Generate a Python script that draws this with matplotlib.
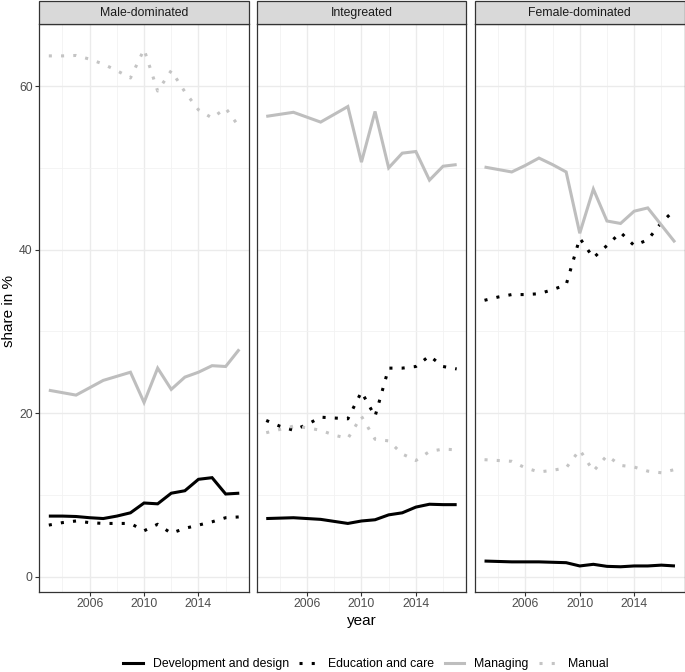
import matplotlib
matplotlib.use("Agg")
import matplotlib.pyplot as plt
from matplotlib.patches import Rectangle
from matplotlib.lines import Line2D
import numpy as np

plt.rcParams["font.family"] = ["Liberation Sans", "DejaVu Sans"]

years = list(range(2003, 2018))
panels = ["Male-dominated", "Integreated", "Female-dominated"]
series_names = ["Development and design", "Education and care", "Managing", "Manual"]

dev_male = [7.4, 7.4, 7.35, 7.2, 7.1, 7.4, 7.8, 9.0, 8.9, 10.2, 10.5, 11.9, 12.1, 10.1, 10.2]
edu_male = [6.3, 6.6, 6.8, 6.6, 6.5, 6.5, 6.5, 5.6, 6.4, 5.3, 5.9, 6.3, 6.7, 7.2, 7.3]
man_male = [22.8, 22.5, 22.2, 23.1, 24.0, 24.5, 25.0, 21.3, 25.5, 22.9, 24.4, 25.0, 25.8, 25.7, 27.8]
manual_male = [63.7, 63.7, 63.75, 63.3, 62.7, 61.9, 61.0, 64.5, 59.4, 61.9, 59.3, 57.1, 56.1, 57.3, 55.0]

dev_int = [7.1, 7.15, 7.2, 7.1, 7.0, 6.75, 6.5, 6.8, 6.95, 7.55, 7.8, 8.5, 8.85, 8.8, 8.8]
edu_int = [19.1, 18.4, 17.9, 18.6, 19.5, 19.4, 19.3, 22.6, 19.6, 25.5, 25.5, 25.7, 27.0, 25.7, 25.4]
man_int = [56.3, 56.55, 56.8, 56.2, 55.6, 56.55, 57.5, 50.7, 56.9, 50.0, 51.8, 52.0, 48.5, 50.2, 50.4]
manual_int = [17.6, 18.0, 18.4, 18.2, 17.9, 17.3, 16.9, 19.6, 16.8, 16.6, 15.0, 14.2, 15.3, 15.6, 15.5]

dev_fem = [1.9, 1.85, 1.8, 1.8, 1.8, 1.75, 1.7, 1.3, 1.5, 1.25, 1.2, 1.3, 1.3, 1.4, 1.3]
edu_fem = [33.8, 34.2, 34.5, 34.5, 34.6, 35.1, 35.7, 41.4, 39.0, 40.5, 42.1, 40.5, 41.2, 43.3, 44.9]
man_fem = [50.1, 49.8, 49.5, 50.3, 51.2, 50.4, 49.5, 42.0, 47.4, 43.5, 43.2, 44.7, 45.1, 43.0, 40.9]
manual_fem = [14.3, 14.2, 14.1, 13.3, 12.8, 13.0, 13.3, 15.5, 12.9, 14.8, 13.6, 13.4, 12.9, 12.7, 13.1]

data = {
    "Male-dominated": [dev_male, edu_male, man_male, manual_male],
    "Integreated": [dev_int, edu_int, man_int, manual_int],
    "Female-dominated": [dev_fem, edu_fem, man_fem, manual_fem],
}

colors = ["#000000", "#000000", "#BEBEBE", "#C4C4C4"]
dotted = (0, (1, 3))
styles = ["-", dotted, "-", dotted]
lw = 2.2

W, H = 685, 672
fig = plt.figure(figsize=(W / 100, H / 100), dpi=100)

lefts = [39.3, 256.7, 475.0]
pw = 209.5
top_px = 24.0
bot_px = 591.7
strip_top = 1.0

for i, (name, lx) in enumerate(zip(panels, lefts)):
    ax = fig.add_axes([lx / W, (H - bot_px) / H, pw / W, (bot_px - top_px) / H])
    ax.set_xlim(2002.3, 2017.7)
    ax.set_ylim(-1.85, 67.6)
    ax.set_xticks([2006, 2010, 2014])
    ax.set_xticks([2004, 2008, 2012, 2016], minor=True)
    ax.set_yticks([0, 20, 40, 60])
    ax.set_yticks([10, 30, 50], minor=True)
    ax.grid(True, which="major", color="#EBEBEB", lw=1.0)
    ax.grid(True, which="minor", color="#F2F2F2", lw=0.6)
    ax.set_axisbelow(True)
    for s in ax.spines.values():
        s.set_color("#333333")
        s.set_linewidth(0.9)
    ax.tick_params(which="minor", length=0)
    ax.tick_params(which="major", length=2.8, width=0.8, color="#333333",
                   labelsize=8.8, labelcolor="#4D4D4D", pad=2)
    if i > 0:
        ax.tick_params(axis="y", which="both", left=False, labelleft=False)
    for vals, c, ls in zip(data[name], colors, styles):
        line, = ax.plot(years, vals, color=c, lw=lw, linestyle=ls,
                        solid_joinstyle="miter", solid_capstyle="butt")
        if ls is dotted:
            line.set_dash_capstyle("butt")
    fig.patches.append(Rectangle((lx / W, (H - top_px) / H), pw / W, (top_px - strip_top) / H,
                                 transform=fig.transFigure, facecolor="#D9D9D9",
                                 edgecolor="#333333", lw=0.9))
    fig.text((lx + pw / 2) / W, (H - (top_px + strip_top) / 2 - 0.5) / H, name,
             ha="center", va="center", fontsize=8.8, color="#1A1A1A")

fig.text(362 / W, (H - 621) / H, "year", ha="center", va="center", fontsize=11, color="#000000")
fig.text(9 / W, (H - 311) / H, "share in %", ha="center", va="center",
         rotation=90, fontsize=11, color="#000000")

handles = [Line2D([], [], color=c, lw=lw, linestyle=ls, dash_capstyle="butt")
           for c, ls in zip(colors, styles)]
fig.legend(handles, series_names, loc="center", bbox_to_anchor=(366 / W, (H - 664) / H),
           ncol=4, frameon=False, fontsize=8.8, handlelength=1.6, handletextpad=0.8,
           columnspacing=0.85, borderpad=0, borderaxespad=0)

fig.savefig("out.png", dpi=100)
